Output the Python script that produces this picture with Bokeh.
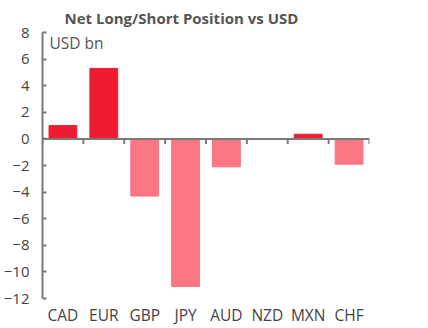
import numpy as np
from bokeh.plotting import figure
from bokeh.models import Range1d, FixedTicker, Span, Label, ColumnDataSource
from bokeh.embed import file_html
from bokeh.resources import INLINE

categories = ["CAD", "EUR", "GBP", "JPY", "AUD", "NZD", "MXN", "CHF"]
values = [1.0, 5.3, -4.3, -11.1, -2.1, -0.05, 0.35, -1.9]
y_ticks = [8, 6, 4, 2, 0, -2, -4, -6, -8, -10, -12]

POS = "#EE1B31"
NEG = "#FA7682"
GREY = "#7a7a7a"
TXT = "#444444"
FONT = "Open Sans"

xs = np.arange(len(categories))
colors = [POS if v >= 0 else NEG for v in values]
src = ColumnDataSource(dict(x=xs, top=values, color=colors))

p = figure(width=428, height=328, output_backend="svg", toolbar_location=None,
           x_range=Range1d(-0.5, len(categories) - 0.5),
           y_range=Range1d(min(y_ticks), max(y_ticks)),
           min_border_left=42, min_border_right=59, min_border_top=32, min_border_bottom=30)
p.outline_line_color = None
p.grid.visible = False
p.background_fill_color = "white"
p.border_fill_color = "white"

p.vbar(x="x", top="top", bottom=0, width=0.68, color="color", source=src)

# zero line with category separator ticks
p.add_layout(Span(location=0, dimension="width", line_color=GREY, line_width=2))
bounds = np.arange(len(categories) + 1) - 0.5
p.segment(x0=bounds, y0=np.zeros_like(bounds), x1=bounds, y1=np.full_like(bounds, -0.38),
          line_color=GREY, line_width=2)

# y axis
ya = p.yaxis[0]
ya.ticker = FixedTicker(ticks=y_ticks)
ya.axis_line_color = GREY
ya.axis_line_width = 2
ya.major_tick_line_color = GREY
ya.major_tick_line_width = 2
ya.major_tick_in = 4
ya.major_tick_out = 0
ya.minor_tick_line_color = None
ya.major_label_standoff = 13
ya.major_label_text_font = FONT
ya.major_label_text_font_size = "15px"
ya.major_label_text_color = TXT

# x axis (labels only)
xa = p.xaxis[0]
xa.ticker = FixedTicker(ticks=list(xs))
xa.major_label_overrides = {int(i): c for i, c in zip(xs, categories)}
xa.axis_line_color = None
xa.major_tick_line_color = None
xa.minor_tick_line_color = None
xa.major_tick_out = 0
xa.major_label_standoff = 5
xa.major_label_text_line_height = 1.0
xa.major_label_text_font = FONT
xa.major_label_text_font_size = "15.5px"
xa.major_label_text_color = TXT

p.add_layout(Label(x=-0.5, y=max(y_ticks), x_offset=7, y_offset=1, text="USD bn",
                   text_font=FONT, text_font_size="15.5px", text_color="#555555",
                   text_baseline="top"))

p.title.text = "Net Long/Short Position vs USD"
p.title.text_font = FONT
p.title.text_font_size = "15px"
p.title.text_font_style = "bold"
p.title.text_color = "#555555"
p.title.align = "left"
p.title.offset = 22

open("out.html", "w").write(file_html(p, INLINE))
